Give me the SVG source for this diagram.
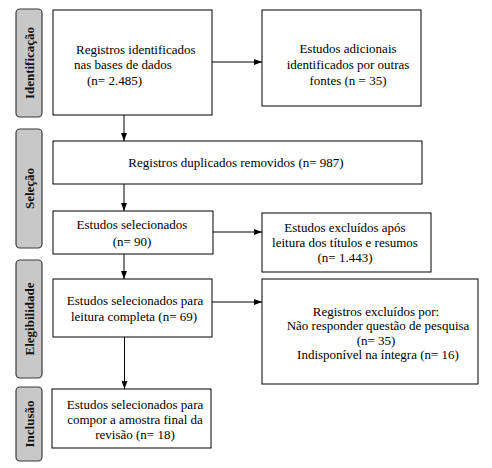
<svg xmlns="http://www.w3.org/2000/svg" width="492" height="468" viewBox="0 0 492 468">
<style>
.box{fill:#fff;stroke:#000;stroke-width:1}
.lab{fill:#c8c8c8;stroke:#3a3a3a;stroke-width:1.2}
.t{font-size:13px;fill:#000}
.c{text-anchor:middle}
.lt{font-size:13px;font-weight:bold;fill:#111;text-anchor:middle}
.con{stroke:#000;stroke-width:1;fill:none;marker-end:url(#ah)}
</style>
<defs>
<marker id="ah" viewBox="0 0 8 6" refX="8" refY="3" markerWidth="8" markerHeight="6" markerUnits="userSpaceOnUse" orient="auto">
<path d="M0,0 L8,3 L0,6 z" fill="#000"/>
</marker>
</defs>
<rect width="492" height="468" fill="#fff"/>
<g font-family="'Liberation Serif', 'DejaVu Serif', serif">
<g id="stages">
<g id="lab-identificacao"><rect class="lab" x="16" y="9" width="26" height="108" rx="4"/><text class="lt" transform="translate(33.5,63) rotate(-90)">Identificação</text></g>
<g id="lab-selecao"><rect class="lab" x="16" y="129" width="26" height="119" rx="4"/><text class="lt" transform="translate(33.5,188.5) rotate(-90)">Seleção</text></g>
<g id="lab-elegibilidade"><rect class="lab" x="16" y="260" width="26" height="118" rx="4"/><text class="lt" transform="translate(33.5,319) rotate(-90)">Elegibilidade</text></g>
<g id="lab-inclusao"><rect class="lab" x="16" y="387" width="26" height="74" rx="4"/><text class="lt" transform="translate(33.5,424) rotate(-90)">Inclusão</text></g>
</g>
<g id="connectors">
<line class="con" x1="212" y1="62" x2="262" y2="62"/>
<line class="con" x1="124" y1="115" x2="124" y2="141"/>
<line class="con" x1="124" y1="184" x2="124" y2="211"/>
<line class="con" x1="213" y1="232" x2="262" y2="232"/>
<line class="con" x1="124" y1="254" x2="124" y2="279"/>
<line class="con" x1="212" y1="302" x2="262" y2="302"/>
<line class="con" x1="124.5" y1="337" x2="124.5" y2="389"/>
</g>
<g id="n1"><rect class="box" x="53" y="10" width="159" height="105"/>
<text class="t" x="76" y="54">Registros identificados</text>
<text class="t" x="74" y="69">nas bases de dados</text>
<text class="t" x="87" y="85">(n= 2.485)</text></g>
<g id="n2"><rect class="box" x="262" y="10" width="159" height="96"/>
<text class="t c" x="348" y="53">Estudos adicionais</text>
<text class="t c" x="348" y="69">identificados por outras</text>
<text class="t c" x="348" y="85">fontes (n = 35)</text></g>
<g id="n3"><rect class="box" x="53" y="141" width="369" height="43"/>
<text class="t c" x="236" y="167">Registros duplicados removidos (n= 987)</text></g>
<g id="n4"><rect class="box" x="53" y="211" width="160" height="43"/>
<text class="t c" x="132" y="229">Estudos selecionados</text>
<text class="t c" x="132" y="246">(n= 90)</text></g>
<g id="n5"><rect class="box" x="262" y="213" width="169" height="59"/>
<text class="t c" x="345" y="232">Estudos excluídos após</text>
<text class="t c" x="345" y="247">leitura dos títulos e resumos</text>
<text class="t c" x="345" y="262">(n= 1.443)</text></g>
<g id="n6"><rect class="box" x="53" y="279" width="159" height="58"/>
<text class="t c" x="135" y="305">Estudos selecionados para</text>
<text class="t c" x="134" y="321">leitura completa (n= 69)</text></g>
<g id="n7"><rect class="box" x="262" y="279" width="216" height="105"/>
<text class="t c" x="376" y="315.5">Registros excluídos por:</text>
<text class="t c" x="378" y="330">Não responder questão de pesquisa</text>
<text class="t c" x="376" y="344.5">(n= 35)</text>
<text class="t c" x="378" y="359">Indisponível na íntegra (n= 16)</text></g>
<g id="n8"><rect class="box" x="52" y="389" width="159" height="59"/>
<text class="t c" x="135" y="409">Estudos selecionados para</text>
<text class="t c" x="135" y="424">compor a amostra final da</text>
<text class="t c" x="135" y="439">revisão (n= 18)</text></g>
</g>
</svg>
